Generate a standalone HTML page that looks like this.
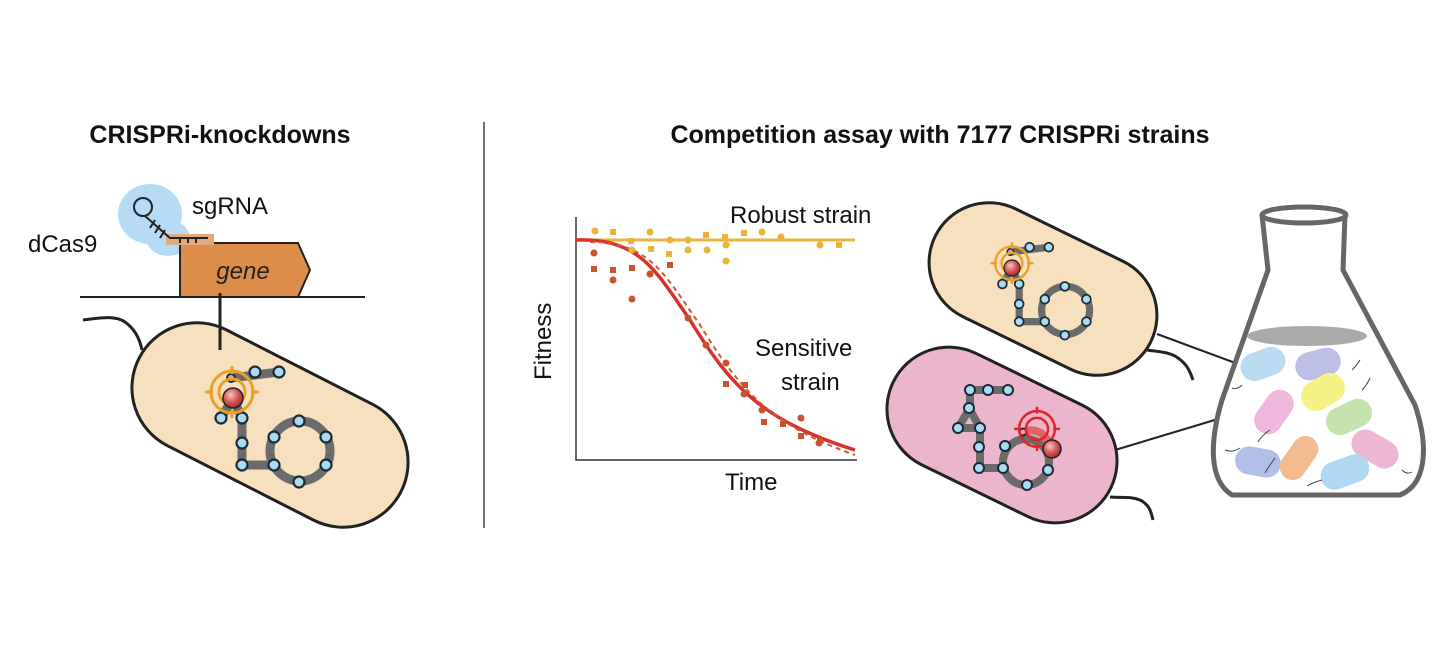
<!DOCTYPE html>
<html><head><meta charset="utf-8"><style>
html,body{margin:0;padding:0;background:#fff;}
svg{display:block;font-family:"Liberation Sans",sans-serif;}
</style></head><body>
<svg width="1440" height="657" viewBox="0 0 1440 657" xmlns="http://www.w3.org/2000/svg">
<defs>
<radialGradient id="rb" cx="0.4" cy="0.35" r="0.7"><stop offset="0" stop-color="#f6c6c6"/><stop offset="0.5" stop-color="#d85a5a"/><stop offset="1" stop-color="#9c2525"/></radialGradient>
<g id="chain">
  <g stroke="#6b6b6b" stroke-width="9" fill="none" stroke-linecap="round">
    <path d="M-2,-20 L46,-26"/>
    <path d="M-12,20 L0,0 L9,20 L9,67 L41,67"/>
    <circle cx="67" cy="53" r="30"/>
  </g>
  <g fill="#a9dcf3" stroke="#1d2a36" stroke-width="2.2">
    <circle cx="22" cy="-26" r="5.5"/><circle cx="46" cy="-26" r="5.5"/>
    <circle cx="-12" cy="20" r="5.5"/><circle cx="9" cy="20" r="5.5"/>
    <circle cx="9" cy="45" r="5.5"/><circle cx="9" cy="67" r="5.5"/>
    <circle cx="66" cy="23" r="5.5"/><circle cx="41" cy="39" r="5.5"/><circle cx="93" cy="39" r="5.5"/>
    <circle cx="41" cy="67" r="5.5"/><circle cx="93" cy="67" r="5.5"/><circle cx="66" cy="84" r="5.5"/>
  </g>
  <circle cx="-2" cy="-20" r="4" fill="#e8a0a0" stroke="#1d2a36" stroke-width="2"/>
</g>
<g id="target" fill="none" stroke-width="3">
  <circle cx="0" cy="-6" r="13"/><circle cx="0" cy="-6" r="21"/>
  <path d="M0,-32 V-24 M0,12 V20 M-27,-6 H-19 M19,-6 H27"/>
</g>
</defs>

<text x="220" y="143" font-size="25" font-weight="bold" text-anchor="middle" fill="#111">CRISPRi-knockdowns</text>
<text x="940" y="143" font-size="25" font-weight="bold" text-anchor="middle" fill="#111">Competition assay with 7177 CRISPRi strains</text>
<line x1="484" y1="122" x2="484" y2="528" stroke="#444" stroke-width="1.5"/>

<!-- left gene panel -->
<ellipse cx="150" cy="214" rx="32" ry="30" fill="#b6dcf5"/>
<ellipse cx="168" cy="238" rx="22" ry="18" fill="#b6dcf5"/>
<path d="M180,243 H298 L310,270 L298,297 H180 Z" fill="#dc8d4a" stroke="#222" stroke-width="2"/>
<rect x="166" y="234" width="48" height="11" fill="#e0aa7d"/>
<g stroke="#222" stroke-width="2" fill="none">
  <circle cx="143" cy="207" r="9"/>
  <path d="M145,216 L170,238 H208 M155,220 L150,228 M160,225 L155,233 M165,230 L160,238 M180,238 V243 M188,238 V243 M196,238 V243"/>
</g>
<text x="243" y="279" font-size="24" font-style="italic" text-anchor="middle" fill="#222">gene</text>
<text x="192" y="214" font-size="24" fill="#111">sgRNA</text>
<text x="28" y="252" font-size="24" fill="#111">dCas9</text>
<line x1="80" y1="297" x2="365" y2="297" stroke="#222" stroke-width="2"/>

<path d="M83,320 C100,318 115,315 125,322 S140,340 142,350" stroke="#222" stroke-width="3" fill="none"/>
<g transform="translate(270,425) rotate(27)">
  <rect x="-147" y="-65" width="294" height="130" rx="65" fill="#f7e0bd" stroke="#222" stroke-width="3"/>
</g>
<line x1="220" y1="293" x2="220" y2="350" stroke="#222" stroke-width="3"/>
<use href="#chain" transform="translate(233,398)"/>
<use href="#target" transform="translate(232,398)" stroke="#e8a22a"/>
<circle cx="233" cy="398" r="10" fill="url(#rb)" stroke="#222" stroke-width="1.5"/>

<!-- chart -->
<path d="M576,217 V460 H857" stroke="#333" stroke-width="1.5" fill="none"/>
<line x1="576" y1="240" x2="855" y2="240" stroke="#ecb23a" stroke-width="3"/>
<path d="M576,240 C640,238 655,270 690,320 C730,385 760,420 855,450" stroke="#d8302a" stroke-width="3.5" fill="none"/>
<path d="M590,242 C650,242 665,275 700,325 C740,390 770,425 855,455" stroke="#cf5a32" stroke-width="2" stroke-dasharray="5,4" fill="none"/>
<g fill="#ecb23a">
  <circle cx="595" cy="231" r="3.5"/><circle cx="650" cy="232" r="3.5"/><circle cx="670" cy="240" r="3.5"/><circle cx="688" cy="240" r="3.5"/><circle cx="688" cy="250" r="3.5"/><circle cx="707" cy="250" r="3.5"/><circle cx="726" cy="245" r="3.5"/><circle cx="726" cy="261" r="3.5"/><circle cx="762" cy="232" r="3.5"/><circle cx="781" cy="237" r="3.5"/><circle cx="820" cy="245" r="3.5"/><circle cx="632" cy="250" r="3.5"/>
  <rect x="610" y="229" width="6" height="6"/><rect x="628" y="238" width="6" height="6"/><rect x="648" y="246" width="6" height="6"/><rect x="666" y="251" width="6" height="6"/><rect x="703" y="232" width="6" height="6"/><rect x="722" y="234" width="6" height="6"/><rect x="741" y="230" width="6" height="6"/><rect x="836" y="242" width="6" height="6"/>
</g>
<g fill="#c9532b">
  <circle cx="594" cy="253" r="3.5"/><circle cx="613" cy="280" r="3.5"/><circle cx="632" cy="299" r="3.5"/><circle cx="650" cy="274" r="3.5"/><circle cx="688" cy="318" r="3.5"/><circle cx="706" cy="345" r="3.5"/><circle cx="726" cy="363" r="3.5"/><circle cx="744" cy="394" r="3.5"/><circle cx="762" cy="410" r="3.5"/><circle cx="801" cy="418" r="3.5"/><circle cx="819" cy="443" r="3.5"/>
  <rect x="591" y="266" width="6" height="6"/><rect x="610" y="267" width="6" height="6"/><rect x="629" y="265" width="6" height="6"/><rect x="667" y="262" width="6" height="6"/><rect x="742" y="382" width="6" height="6"/><rect x="723" y="381" width="6" height="6"/><rect x="761" y="419" width="6" height="6"/><rect x="780" y="421" width="6" height="6"/><rect x="798" y="433" width="6" height="6"/><rect x="817" y="437" width="6" height="6"/>
</g>
<text x="730" y="223" font-size="24" fill="#111">Robust strain</text>
<text x="755" y="356" font-size="24" fill="#111">Sensitive</text>
<text x="781" y="390" font-size="24" fill="#111">strain</text>
<text x="725" y="490" font-size="24" fill="#111">Time</text>
<text transform="translate(551,380) rotate(-90)" font-size="24" fill="#111">Fitness</text>

<!-- right top cell -->
<path d="M1147,350 C1160,352 1170,352 1178,358 C1188,365 1190,372 1193,380" stroke="#222" stroke-width="3" fill="none"/>
<g transform="translate(1043,289) rotate(26)">
  <rect x="-120" y="-60" width="240" height="120" rx="60" fill="#f7e0bd" stroke="#222" stroke-width="3"/>
</g>
<line x1="1157" y1="334" x2="1292" y2="384" stroke="#222" stroke-width="2"/>
<g transform="translate(1012,268) scale(0.8)">
  <use href="#chain"/>
  <use href="#target" stroke="#e8a22a"/>
  <circle r="10" fill="url(#rb)" stroke="#222" stroke-width="1.5"/>
</g>

<!-- pink cell -->
<path d="M1110,497 C1120,498 1130,496 1140,500 C1150,505 1151,512 1153,520" stroke="#222" stroke-width="3" fill="none"/>
<g transform="translate(1002,435) rotate(26)">
  <rect x="-121" y="-62" width="242" height="124" rx="62" fill="#ebb6cd" stroke="#222" stroke-width="3"/>
</g>
<line x1="1115" y1="450" x2="1238" y2="413" stroke="#222" stroke-width="2"/>
<g stroke="#6b6b6b" stroke-width="8" fill="none" stroke-linecap="round" stroke-linejoin="round">
  <path d="M970,390 H1008 M970,390 V408 L958,428 H980 M969,408 L980,428 V468 H1003"/>
  <circle cx="1026" cy="462" r="23"/>
</g>
<path d="M1023,432 Q1042,425 1052,448" stroke="#e06464" stroke-width="8" fill="none"/>
<g fill="#a9dcf3" stroke="#1d2a36" stroke-width="2">
  <circle cx="970" cy="390" r="5"/><circle cx="988" cy="390" r="5"/><circle cx="1008" cy="390" r="5"/>
  <circle cx="969" cy="408" r="5"/><circle cx="958" cy="428" r="5"/><circle cx="980" cy="428" r="5"/>
  <circle cx="979" cy="447" r="5"/><circle cx="979" cy="468" r="5"/><circle cx="1003" cy="468" r="5"/>
  <circle cx="1005" cy="446" r="5"/><circle cx="1027" cy="485" r="5"/><circle cx="1048" cy="470" r="5"/>
</g>
<circle cx="1023" cy="432" r="3.5" fill="#e8a0a0" stroke="#1d2a36" stroke-width="2"/>
<use href="#target" transform="translate(1037,434) scale(0.85)" stroke="#e0262a"/>
<circle cx="1052" cy="449" r="9" fill="url(#rb)" stroke="#222" stroke-width="1.5"/>

<!-- flask -->
<path d="M1262,215 L1268,270 L1222,400 C1210,440 1208,480 1232,495 H1400 C1425,485 1430,450 1415,405 L1343,270 L1345,215" fill="#fff" stroke="#666" stroke-width="5" stroke-linejoin="round"/>
<ellipse cx="1304" cy="215" rx="42" ry="8" fill="#fff" stroke="#666" stroke-width="5"/>
<ellipse cx="1307" cy="336" rx="60" ry="10" fill="#aaaaaa"/>
<g opacity="0.9">
  <rect x="1240" y="350" width="46" height="28" rx="14" fill="#b3d8f0" transform="rotate(-20 1263 364)"/>
  <rect x="1295" y="350" width="46" height="28" rx="14" fill="#b5b7e3" transform="rotate(-15 1318 364)"/>
  <rect x="1300" y="377" width="46" height="30" rx="15" fill="#f6f17a" transform="rotate(-30 1323 392)"/>
  <rect x="1250" y="398" width="48" height="28" rx="14" fill="#eeb0d8" transform="rotate(-55 1274 412)"/>
  <rect x="1325" y="403" width="48" height="28" rx="14" fill="#bfe0a5" transform="rotate(-25 1349 417)"/>
  <rect x="1350" y="435" width="50" height="28" rx="14" fill="#ecb0d0" transform="rotate(30 1375 449)"/>
  <rect x="1235" y="448" width="46" height="28" rx="14" fill="#aab8e8" transform="rotate(10 1258 462)"/>
  <rect x="1275" y="445" width="48" height="26" rx="13" fill="#f0b483" transform="rotate(-55 1299 458)"/>
  <rect x="1320" y="458" width="50" height="28" rx="14" fill="#a9d4f2" transform="rotate(-20 1345 472)"/>
</g>
<g stroke="#444" stroke-width="1" fill="none">
  <path d="M1242,385 q-5,5 -10,3 M1240,448 q-8,5 -15,2 M1275,458 q-6,8 -10,15 M1402,470 q5,5 10,2 M1322,480 q-8,2 -15,6 M1352,370 q5,-5 8,-10 M1270,430 q-8,5 -12,12 M1362,390 q5,-5 8,-12"/>
</g>
</svg>
</body></html>
